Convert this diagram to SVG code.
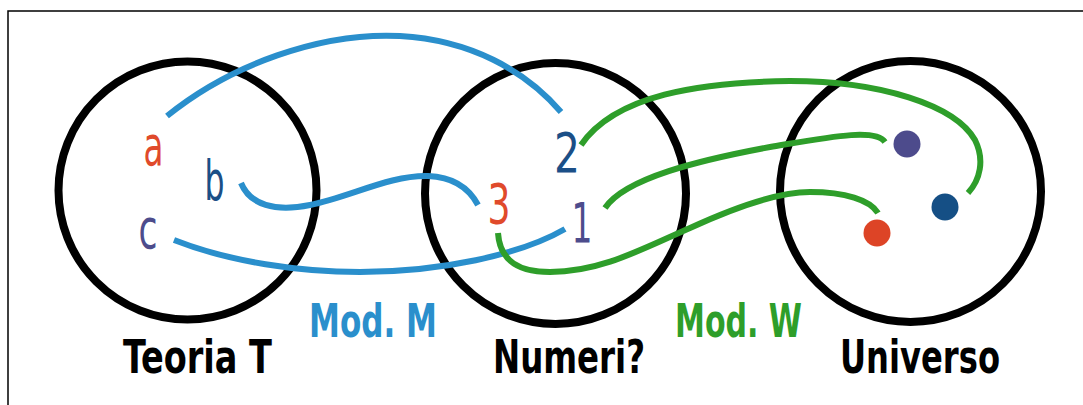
<svg xmlns="http://www.w3.org/2000/svg" width="1083" height="405" viewBox="0 0 1083 405">
<style>
.ring{fill:none;stroke:#000;stroke-width:8}
.blue{fill:none;stroke:#2A8FCC;stroke-width:6;stroke-linecap:butt}
.green{fill:none;stroke:#2E9E2A;stroke-width:6;stroke-linecap:butt}
.sm{font-family:'DejaVu Sans','Liberation Sans',sans-serif;font-weight:normal;font-size:55px;text-anchor:middle}
.big{font-family:'Liberation Sans Narrow','DejaVu Sans Condensed','Liberation Sans',sans-serif;font-size:46px;font-weight:bold;text-anchor:middle}
</style>
<rect x="0" y="0" width="1083" height="405" fill="#fff"/>
<rect x="8" y="11" width="1090" height="410" fill="none" stroke="#000" stroke-width="1.5"/>
<g id="teoria">
<circle class="ring" cx="187.5" cy="190.5" r="129"/>
<text class="sm" x="153.5" y="165" fill="#E04A2B" textLength="20" lengthAdjust="spacingAndGlyphs">a</text>
<text class="sm" x="214.5" y="200" fill="#1B4F87" textLength="20" lengthAdjust="spacingAndGlyphs">b</text>
<text class="sm" x="148" y="248" fill="#4D4C8C" textLength="19" lengthAdjust="spacingAndGlyphs">c</text>
<text class="big" x="197.5" y="373" textLength="149" lengthAdjust="spacingAndGlyphs">Teoria T</text>
</g>
<g id="numeri">
<circle class="ring" cx="555.5" cy="193.5" r="130.5"/>
<text class="sm" x="567" y="172" fill="#1B4F87" textLength="26" lengthAdjust="spacingAndGlyphs">2</text>
<text class="sm" x="499" y="223" fill="#E04A2B" textLength="23" lengthAdjust="spacingAndGlyphs">3</text>
<text class="sm" x="582" y="242" fill="#4D4C8C" textLength="21" lengthAdjust="spacingAndGlyphs">1</text>
<text class="big" x="569" y="373" textLength="152" lengthAdjust="spacingAndGlyphs">Numeri?</text>
</g>
<g id="universo">
<circle class="ring" cx="910.5" cy="191.5" r="130.5"/>
<circle cx="907" cy="144" r="13.5" fill="#4D4B8C"/>
<circle cx="945" cy="207" r="13.5" fill="#154F85"/>
<circle cx="877" cy="233" r="13.5" fill="#DD4426"/>
<text class="big" x="920" y="373" textLength="160" lengthAdjust="spacingAndGlyphs">Universo</text>
</g>
<g id="connectors">
<path class="blue" d="M167,116 C230,65 320,32 400,36 C470,40 525,70 561,112"/>
<path class="blue" d="M241,183 C250,205 275,212 310,205 C350,197 390,175 428,176 C455,177 470,190 478,205"/>
<path class="blue" d="M174,240 C230,262 300,272 360,272 C440,272 520,255 565,229"/>
<path class="green" d="M581,145 C615,95 700,82 790,81 C880,81 955,105 975,140 C985,160 980,180 968,193"/>
<path class="green" d="M605,208 C625,178 700,160 770,147 C830,137 875,128 885,142"/>
<path class="green" d="M498,233 C500,262 520,272 550,272 C600,272 640,250 690,228 C740,205 780,192 810,192 C845,192 870,200 878,213"/>
</g>
<g id="labels">
<text class="big" x="373" y="337" fill="#2A8FCC" textLength="128" lengthAdjust="spacingAndGlyphs">Mod. M</text>
<text class="big" x="738.5" y="337" fill="#2E9E2A" textLength="127" lengthAdjust="spacingAndGlyphs">Mod. W</text>
</g>
</svg>
